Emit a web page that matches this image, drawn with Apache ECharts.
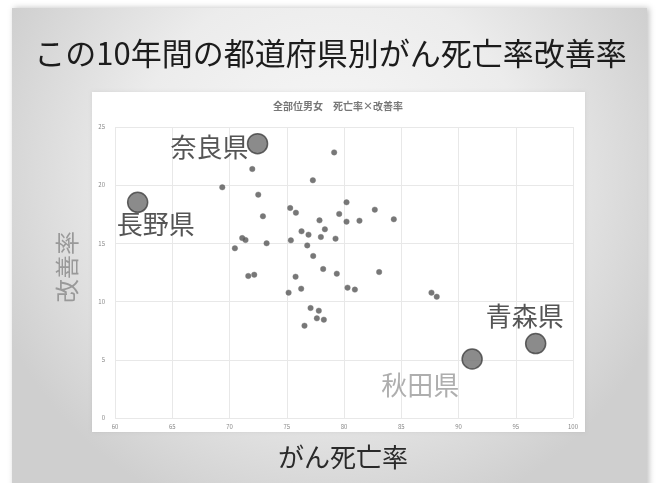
<!DOCTYPE html>
<html>
<head>
<meta charset="utf-8">
<script src="https://cdn.jsdelivr.net/npm/echarts@6/dist/echarts.min.js"></script>
<style>
  html, body { margin: 0; padding: 0; background: #ffffff; }
  #chart { width: 661px; height: 483px; }
</style>
</head>
<body>
<div id="chart"></div>
<script>
// がん死亡率 (x) と 改善率 (y) — 都道府県
const deathRate = [
  79.14, 71.99, 77.28, 69.37, 72.51, 80.22, 75.30, 75.80, 82.69, 79.58,
  72.92, 77.86, 80.22, 81.35, 84.35, 78.33, 76.29, 76.90, 77.98, 79.26,
  71.11, 71.40, 75.36, 73.24, 70.47, 76.79, 77.31, 78.18, 83.07, 71.64,
  72.16, 75.77, 79.37, 76.26, 80.31, 80.95, 75.16, 87.64, 88.10, 77.08,
  77.80, 77.63, 78.24, 76.55
];
const improvement = [
  22.82, 21.39, 20.42, 19.82, 19.19, 18.53, 18.04, 17.64, 17.90, 17.53,
  17.33, 16.98, 16.87, 16.95, 17.07, 16.21, 16.04, 15.75, 15.55, 15.41,
  15.46, 15.29, 15.26, 15.01, 14.58, 14.83, 13.92, 12.80, 12.54, 12.20,
  12.31, 12.14, 12.40, 11.11, 11.20, 11.03, 10.77, 10.77, 10.42, 9.45,
  9.22, 8.56, 8.45, 7.93
];

// 注目する県
const highlightNames = ['奈良県', '長野県', '青森県', '秋田県'];
const highlightDeath = [72.45, 61.98, 96.74, 91.19];
const highlightImprove = [23.57, 18.53, 6.39, 5.07];

const xTicks = [60, 65, 70, 75, 80, 85, 90, 95, 100];
const yTicks = [0, 5, 10, 15, 20, 25];

const mainTitle = 'この10年間の都道府県別がん死亡率改善率';
const chartTitle = '全部位男女　死亡率×改善率';
const xName = 'がん死亡率';
const yName = '改善率';

const JP = '"Noto Sans CJK JP", "Noto Sans", sans-serif';

// 県名ラベルの見た目（位置・色）
const labelStyles = {
  '奈良県': { offset: [-48, 3], color: '#2a2a2a' },
  '長野県': { offset: [18, 22], color: '#2a2a2a' },
  '青森県': { offset: [-11, -27], color: '#2a2a2a' },
  '秋田県': { offset: [-52, 26], color: '#9a9a9a' }
};

const smallData = deathRate.map((x, i) => [x, improvement[i]]);
const bigData = highlightNames.map((n, i) => ({
  name: n,
  value: [highlightDeath[i], highlightImprove[i]],
  label: {
    show: true,
    position: 'inside',
    formatter: '{b}',
    offset: labelStyles[n].offset,
    color: labelStyles[n].color,
    fontSize: 26,
    fontFamily: JP
  }
}));

const chart = echarts.init(document.getElementById('chart'), null, { renderer: 'canvas' });

chart.setOption({
  backgroundColor: '#ffffff',
  animation: false,
  graphic: {
    elements: [
      {
        type: 'rect',
        z: -20,
        silent: true,
        shape: { x: 12, y: 8, width: 635, height: 480 },
        style: {
          fill: {
            type: 'radial', x: 0.5, y: 0.35, r: 0.75,
            colorStops: [
              { offset: 0, color: '#f8f8f8' },
              { offset: 0.55, color: '#ececec' },
              { offset: 1, color: '#cfcfcf' }
            ]
          },
          shadowBlur: 6,
          shadowColor: 'rgba(0,0,0,0.25)',
          shadowOffsetX: 2
        }
      },
      {
        type: 'rect',
        z: -10,
        silent: true,
        shape: { x: 92, y: 92, width: 493, height: 340 },
        style: { fill: '#ffffff', shadowBlur: 3, shadowColor: 'rgba(0,0,0,0.08)' }
      },
      {
        type: 'text',
        z: 10,
        left: 'center',
        top: 38,
        style: {
          text: mainTitle,
          font: '31px ' + JP,
          fill: '#1c1c1c'
        }
      },
      {
        type: 'text',
        z: 10,
        x: 338,
        y: 106,
        style: {
          text: chartTitle,
          font: 'bold 10px ' + JP,
          fill: '#777777',
          align: 'center',
          verticalAlign: 'middle'
        }
      },
      {
        type: 'text',
        z: 10,
        x: 343,
        y: 457,
        style: {
          text: xName,
          font: '26px ' + JP,
          fill: '#2a2a2a',
          align: 'center',
          verticalAlign: 'middle'
        }
      },
      {
        type: 'text',
        z: 10,
        x: 67,
        y: 267,
        rotation: Math.PI / 2,
        style: {
          text: yName,
          font: '24px ' + JP,
          fill: '#999999',
          align: 'center',
          verticalAlign: 'middle'
        }
      }
    ]
  },
  grid: { left: 115, right: 88, top: 127, bottom: 65 },
  xAxis: {
    type: 'value',
    min: xTicks[0],
    max: xTicks[xTicks.length - 1],
    interval: 5,
    axisLine: { show: false },
    axisTick: { show: false },
    axisLabel: { fontSize: 6, color: '#888888', margin: 6, fontFamily: JP },
    splitLine: { show: true, lineStyle: { color: '#e8e8e8', width: 1 } }
  },
  yAxis: {
    type: 'value',
    min: yTicks[0],
    max: yTicks[yTicks.length - 1],
    interval: 5,
    axisLine: { show: false },
    axisTick: { show: false },
    axisLabel: { fontSize: 6, color: '#888888', margin: 10, fontFamily: JP },
    splitLine: { show: true, lineStyle: { color: '#e8e8e8', width: 1 } }
  },
  series: [
    {
      type: 'scatter',
      data: smallData,
      symbolSize: 5.5,
      itemStyle: { color: '#555555', borderColor: '#777777', borderWidth: 0.5 }
    },
    {
      type: 'scatter',
      data: bigData,
      symbolSize: 20,
      itemStyle: { color: '#6e6e6e', borderColor: '#3e3e3e', borderWidth: 1.5 }
    }
  ]
});
</script>
</body>
</html>
